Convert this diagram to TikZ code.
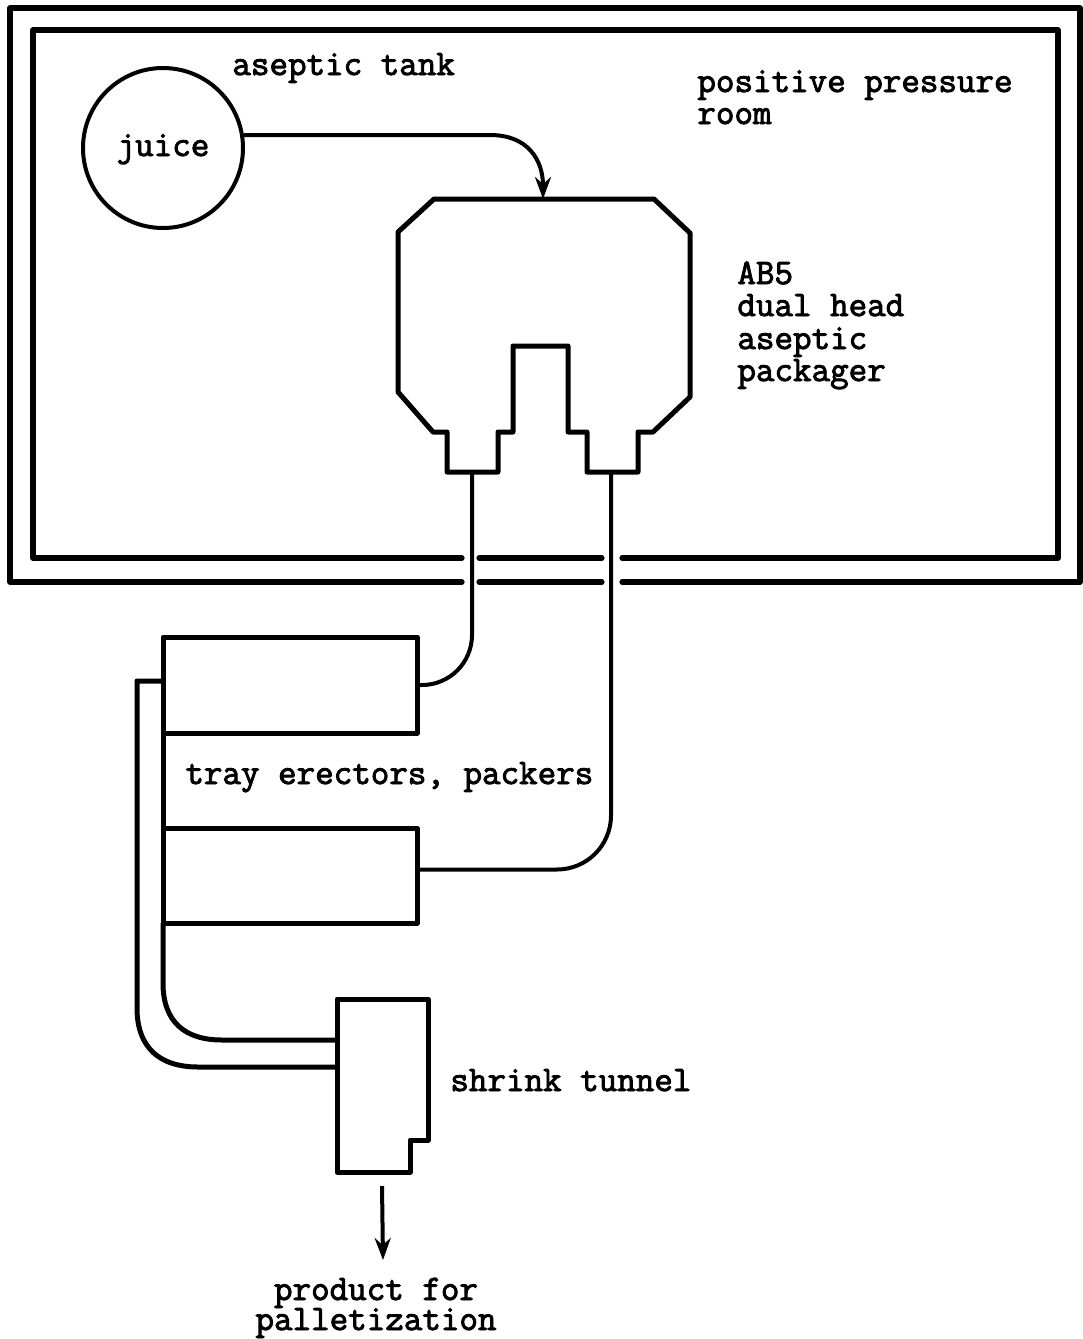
\documentclass[tikz,border=0pt]{standalone}
\usepackage{fontspec}
\newfontfamily\tw{Latin Modern Mono}[FakeBold=2.5]
\usetikzlibrary{arrows.meta}
\begin{document}
\begin{tikzpicture}[x=0.5pt,y=-0.5pt,
  wall/.style={line width=2.6pt,line cap=round,line join=round},
  mach/.style={line width=2.5pt,line join=round},
  pipe/.style={line width=2pt,line join=round},
  lbl/.style={font=\tw\fontsize{18}{16}\selectfont,inner sep=0pt,text height=11pt,text depth=3pt},
  tip/.style={-{Stealth[length=11pt,width=8pt]}},
  tray/.style={draw,mach,rectangle,minimum width=127pt,inner sep=0pt,outer sep=0pt}]
\useasboundingbox (0,0) rectangle (1082,1339);
% walls of the positive pressure room
\draw[wall] (462,582) -- (10,582) -- (10,8) -- (1080,8) -- (1080,582) -- (622,582);
\draw[wall] (479,582) -- (602,582);
\draw[wall] (462,558) -- (33,558) -- (33,30) -- (1058,30) -- (1058,558) -- (622,558);
\draw[wall] (479,558) -- (602,558);
% aseptic tank
\node[circle,draw,line width=2pt,minimum size=80pt,inner sep=0pt,lbl] (tank) at (163,148) {juice};
\node[lbl,anchor=base west] (tanklbl) at (232,75) {aseptic tank};
\node[lbl,anchor=base west] (room1) at (697,92) {positive pressure};
\node[lbl,anchor=base west] (room2) at (697,124) {room};
% packager
\coordinate (pkin) at (543,199);
\coordinate (pkL) at (472,472);
\coordinate (pkR) at (611,472);
\draw[mach] (434,199) -- (654,199) -- (690,233) -- (690,397) -- (653,432) -- (638,432)
  -- (638,472) -- (587,472) -- (587,432) -- (568,432) -- (568,346) -- (513,346)
  -- (513,432) -- (498,432) -- (498,472) -- (447,472) -- (447,432) -- (433,432)
  -- (398,392) -- (398,232) -- cycle;
\node[lbl,anchor=base west] (ab1) at (737,284) {AB5};
\node[lbl,anchor=base west] (ab2) at (737,316) {dual head};
\node[lbl,anchor=base west] (ab3) at (737,349) {aseptic};
\node[lbl,anchor=base west] (ab4) at (737,381) {packager};
% juice line
\draw[pipe,tip] (tank.9) -- (490,135) .. controls (528,135) and (543,160) .. (pkin);
% tray erectors, packers
\node[tray,minimum height=48pt] (tray1) at (290,685) {};
\node[tray,minimum height=47.5pt] (tray2) at (290,875.5) {};
\node[lbl,anchor=base west] (traylbl) at (185,784) {tray erectors, packers};
\draw[pipe,rounded corners=25pt] (pkL) |- (tray1.east);
\draw[pipe,rounded corners=27pt] (pkR) |- ([yshift=3pt]tray2.east);
% shrink tunnel
\coordinate (tnw) at (337,999);
\coordinate (tin1) at (337,1040);
\coordinate (tin2) at (337,1067);
\coordinate (tout) at (382,1186);
\draw[mach] (tnw) -- (428,999) -- (428,1140) -- (410,1140) -- (410,1172) -- (337,1172) -- cycle;
\node[lbl,anchor=base west] (shrink) at (450,1091) {shrink tunnel};
% conveyors to shrink tunnel
\draw[mach] (tray1.south west) -- (tray2.north west);
\draw[mach] (tray2.south west) -- (163,983) .. controls (163,1022) and (185,1040) .. (222,1040) -- (tin1);
\coordinate (t1c) at (163,681);
\draw[mach] (t1c) -- (137,681) -- (137,1008) .. controls (137,1048) and (160,1067) .. (198,1067) -- (tin2);
% product
\node[lbl,anchor=base] (prod1) at (376,1300) {product for};
\node[lbl,anchor=base] (prod2) at (376,1330) {palletization};
\coordinate (pend) at (383,1260);
\draw[pipe,tip] (tout) -- (pend);
\end{tikzpicture}
\end{document}
